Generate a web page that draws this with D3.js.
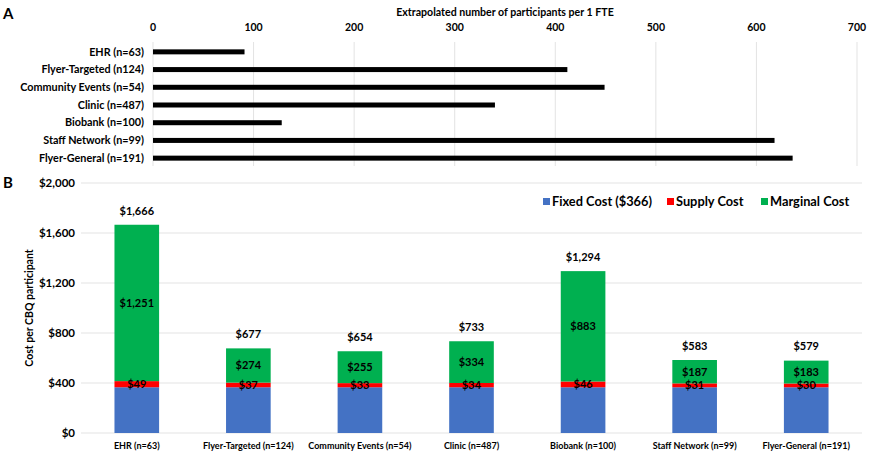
<!DOCTYPE html>
<html><head><meta charset="utf-8">
<script src="https://cdn.jsdelivr.net/npm/d3@7"></script>
<style>
body{margin:0;background:#fff;}
text{font-family:Lato,"Open Sans",sans-serif;font-weight:bold;fill:#000;}
</style></head>
<body><svg id="c" width="869" height="454"></svg>
<script>
const categories = ["EHR (n=63)","Flyer-Targeted (n124)","Community Events (n=54)","Clinic (n=487)","Biobank (n=100)","Staff Network (n=99)","Flyer-General (n=191)"];
const participantsPerFTE = [91, 412, 449, 340, 128, 618, 636];
const topTicks = [0,100,200,300,400,500,600,700];

const costCategories = ["EHR (n=63)","Flyer-Targeted (n=124)","Community Events (n=54)","Clinic (n=487)","Biobank (n=100)","Staff Network (n=99)","Flyer-General (n=191)"];
const fixedCost = [366,366,366,366,366,366,366];
const supplyCost = [49,37,33,34,46,31,30];
const marginalCost = [1251,274,255,334,883,187,183];
const totalCost = [1666,677,654,733,1294,583,579];
const yTicks = [0,400,800,1200,1600,2000];
const seriesNames = ["Fixed Cost ($366)","Supply Cost","Marginal Cost"];
const seriesColors = ["#4472C4","#FF0000","#00B050"];

const svg = d3.select("#c");

// Panel A
svg.append("text").attr("x",3).attr("y",19).style("font-size","15px").text("A");
const xA = d3.scaleLinear().domain([0,700]).range([153,857]);
const yA = d3.scaleBand().domain(categories).range([43,167]);
svg.append("text").attr("x",505).attr("y",16).attr("text-anchor","middle").style("font-size","10.6px")
  .text("Extrapolated number of participants per 1 FTE");
const gA = svg.append("g");
gA.selectAll("line.g").data(topTicks).join("line")
  .attr("x1",d=>xA(d)).attr("x2",d=>xA(d)).attr("y1",42).attr("y2",166)
  .attr("stroke","#e3e3e3").attr("stroke-width",1);
gA.selectAll("text.t").data(topTicks).join("text")
  .attr("x",d=>xA(d)).attr("y",31).attr("text-anchor","middle").style("font-size","10.5px").text(d=>d);
gA.selectAll("rect").data(participantsPerFTE).join("rect")
  .attr("x",xA(0)).attr("y",(d,i)=>yA(categories[i])+yA.bandwidth()/2-2.5)
  .attr("width",d=>xA(d)-xA(0)).attr("height",5).attr("fill","#000");
gA.selectAll("text.c").data(categories).join("text")
  .attr("x",144).attr("y",d=>yA(d)+yA.bandwidth()/2).attr("dy","0.35em")
  .attr("text-anchor","end").style("font-size","10.8px").text(d=>d);

// Panel B
svg.append("text").attr("x",3).attr("y",188).style("font-size","15px").text("B");
const xB = d3.scaleBand().domain(costCategories).range([81,862]).paddingInner(0.6).paddingOuter(0.3);
const yB = d3.scaleLinear().domain([0,2000]).range([433,183]);
const gB = svg.append("g");
gB.selectAll("line.g").data(yTicks).join("line")
  .attr("x1",81).attr("x2",862).attr("y1",d=>yB(d)).attr("y2",d=>yB(d))
  .attr("stroke","#e3e3e3").attr("stroke-width",1);
gB.selectAll("text.y").data(yTicks).join("text")
  .attr("x",75).attr("y",d=>yB(d)).attr("dy","0.35em").attr("text-anchor","end")
  .style("font-size","11.5px").text(d=>d3.format("$,")(d));
svg.append("text").attr("transform","translate(33,308) rotate(-90)").attr("text-anchor","middle")
  .style("font-size","10.5px").text("Cost per CBQ participant");

const rows = costCategories.map((c,i)=>({cat:c,fixed:fixedCost[i],supply:supplyCost[i],marginal:marginalCost[i],total:totalCost[i]}));
const stack = d3.stack().keys(["fixed","supply","marginal"])(rows);
stack.forEach((s,si)=>{
  gB.selectAll(null).data(s).join("rect")
    .attr("x",d=>xB(d.data.cat)).attr("width",xB.bandwidth())
    .attr("y",d=>yB(d[1])).attr("height",d=>yB(d[0])-yB(d[1]))
    .attr("fill",seriesColors[si]);
});
// supply labels
gB.selectAll(null).data(stack[1]).join("text")
  .attr("x",d=>xB(d.data.cat)+xB.bandwidth()/2).attr("y",d=>yB((d[0]+d[1])/2)).attr("dy","0.35em")
  .attr("text-anchor","middle").style("font-size","11px").text(d=>"$"+d.data.supply);
// marginal labels
gB.selectAll(null).data(stack[2]).join("text")
  .attr("x",d=>xB(d.data.cat)+xB.bandwidth()/2).attr("y",d=>yB((d[0]+d[1])/2)).attr("dy","0.35em")
  .attr("text-anchor","middle").style("font-size","11px").text(d=>d3.format("$,")(d.data.marginal));
// totals
gB.selectAll(null).data(rows).join("text")
  .attr("x",d=>xB(d.cat)+xB.bandwidth()/2).attr("y",d=>yB(d.total)-14).attr("dy","0.35em")
  .attr("text-anchor","middle").style("font-size","11px").text(d=>d3.format("$,")(d.total));
// x labels
gB.selectAll(null).data(costCategories).join("text")
  .attr("x",d=>xB(d)+xB.bandwidth()/2).attr("y",446).attr("dy","0.35em")
  .attr("text-anchor","middle").style("font-size","9px").text(d=>d);
// legend
const legX = [543,667,761];
const leg = svg.append("g");
seriesNames.forEach((n,i)=>{
  leg.append("rect").attr("x",legX[i]).attr("y",198).attr("width",7).attr("height",7).attr("fill",seriesColors[i]);
  leg.append("text").attr("x",legX[i]+9).attr("y",202).attr("dy","0.35em").style("font-size","12.8px").text(n);
});
</script></body></html>
